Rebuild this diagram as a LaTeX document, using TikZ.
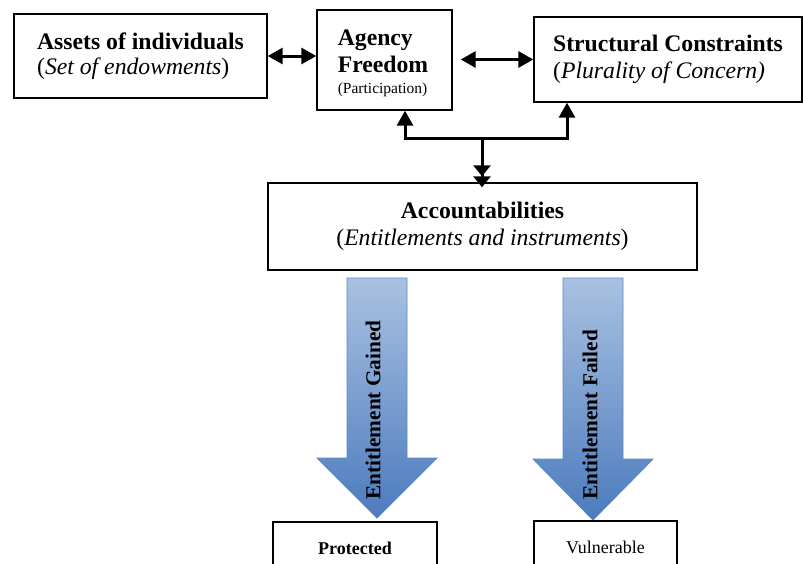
\documentclass[tikz,border=0pt]{standalone}
\usepackage{fontspec}
\setmainfont{Liberation Serif}
\usetikzlibrary{arrows.meta}
\definecolor{arrtop}{HTML}{A9C1E1}
\definecolor{arrbot}{HTML}{4C7BBE}
\definecolor{arredge}{HTML}{5A88C6}
\tikzset{
  box/.style={draw, line width=1.4pt, inner sep=0pt, fill=white},
  big/.style={font=\fontsize{23.7}{27}\selectfont},
  conn/.style={line width=3pt, -{Triangle[length=15pt,width=16pt]}},
  bconn/.style={line width=3pt, {Triangle[length=15pt,width=16pt]}-{Triangle[length=15pt,width=16pt]}},
  blockarrow/.style={top color=arrtop, bottom color=arrbot, draw=arredge, line width=0.9pt},
  arrtext/.style={rotate=90, font=\fontsize{21.3}{23}\selectfont\bfseries}
}
\begin{document}
\begin{tikzpicture}[x=1pt,y=-1pt]
\useasboundingbox (0,0) rectangle (803,563);
% boxes
\node[box, big, minimum width=253pt, minimum height=84pt, align=left] (assets) at (140.5,56)
  {\textbf{Assets of individuals}\\[-2pt](\textit{Set of endowments})};
\node[box, minimum width=135pt, minimum height=100pt] (agency) at (384.5,60) {};
\node[big, align=left, anchor=center] (agencytext) at (383,63)
  {\textbf{Agency}\\\textbf{Freedom}\\[-6pt]{\fontsize{15.5}{17}\selectfont (Participation)}};
\node[box, big, minimum width=268pt, minimum height=85pt, align=left] (struct) at (668,59.5)
  {\textbf{Structural Constraints}\\(\textit{Plurality of Concern)}};
\node[box, big, minimum width=429pt, minimum height=87pt, align=center] (acc) at (482.5,226.5)
  {\textbf{Accountabilities}\\(\textit{Entitlements and instruments})};
% connectors
\draw[bconn] (assets.east) -- (agency.west |- assets.east);
\draw[bconn] ([xshift=8pt]agency.east |- struct.west) -- (struct.west);
\coordinate (j) at (482,138);
\coordinate (ja) at (405,138);
\coordinate (js) at (567,138);
\draw[conn] (j) -- (ja) -- (ja |- agency.south);
\draw[conn] (j) -- (js) -- (js |- struct.south);
\draw[line width=3pt, -{Triangle[length=11pt,width=17pt] Triangle[length=11pt,width=17pt]}] (j) -- ([yshift=-5pt]acc.north -| j);
% block arrows
\shade[blockarrow] (347,278) -- (407,278) -- (407,458) -- (437,458) -- (377,518) -- (317,458) -- (347,458) -- cycle;
\shade[blockarrow] (563,278) -- (623,278) -- (623,459) -- (653,459) -- (593,520) -- (533,459) -- (563,459) -- cycle;
\node[arrtext] (gained) at (373,410) {Entitlement Gained};
\node[arrtext] (failed) at (590,415) {Entitlement Failed};
% outcome boxes
\node[box, minimum width=164pt, minimum height=52pt, font=\fontsize{18}{20}\selectfont\bfseries] (prot) at (355,548) {Protected};
\node[box, minimum width=143pt, minimum height=52pt, font=\fontsize{18}{20}\selectfont] (vuln) at (605.5,547) {Vulnerable};
\end{tikzpicture}
\end{document}
